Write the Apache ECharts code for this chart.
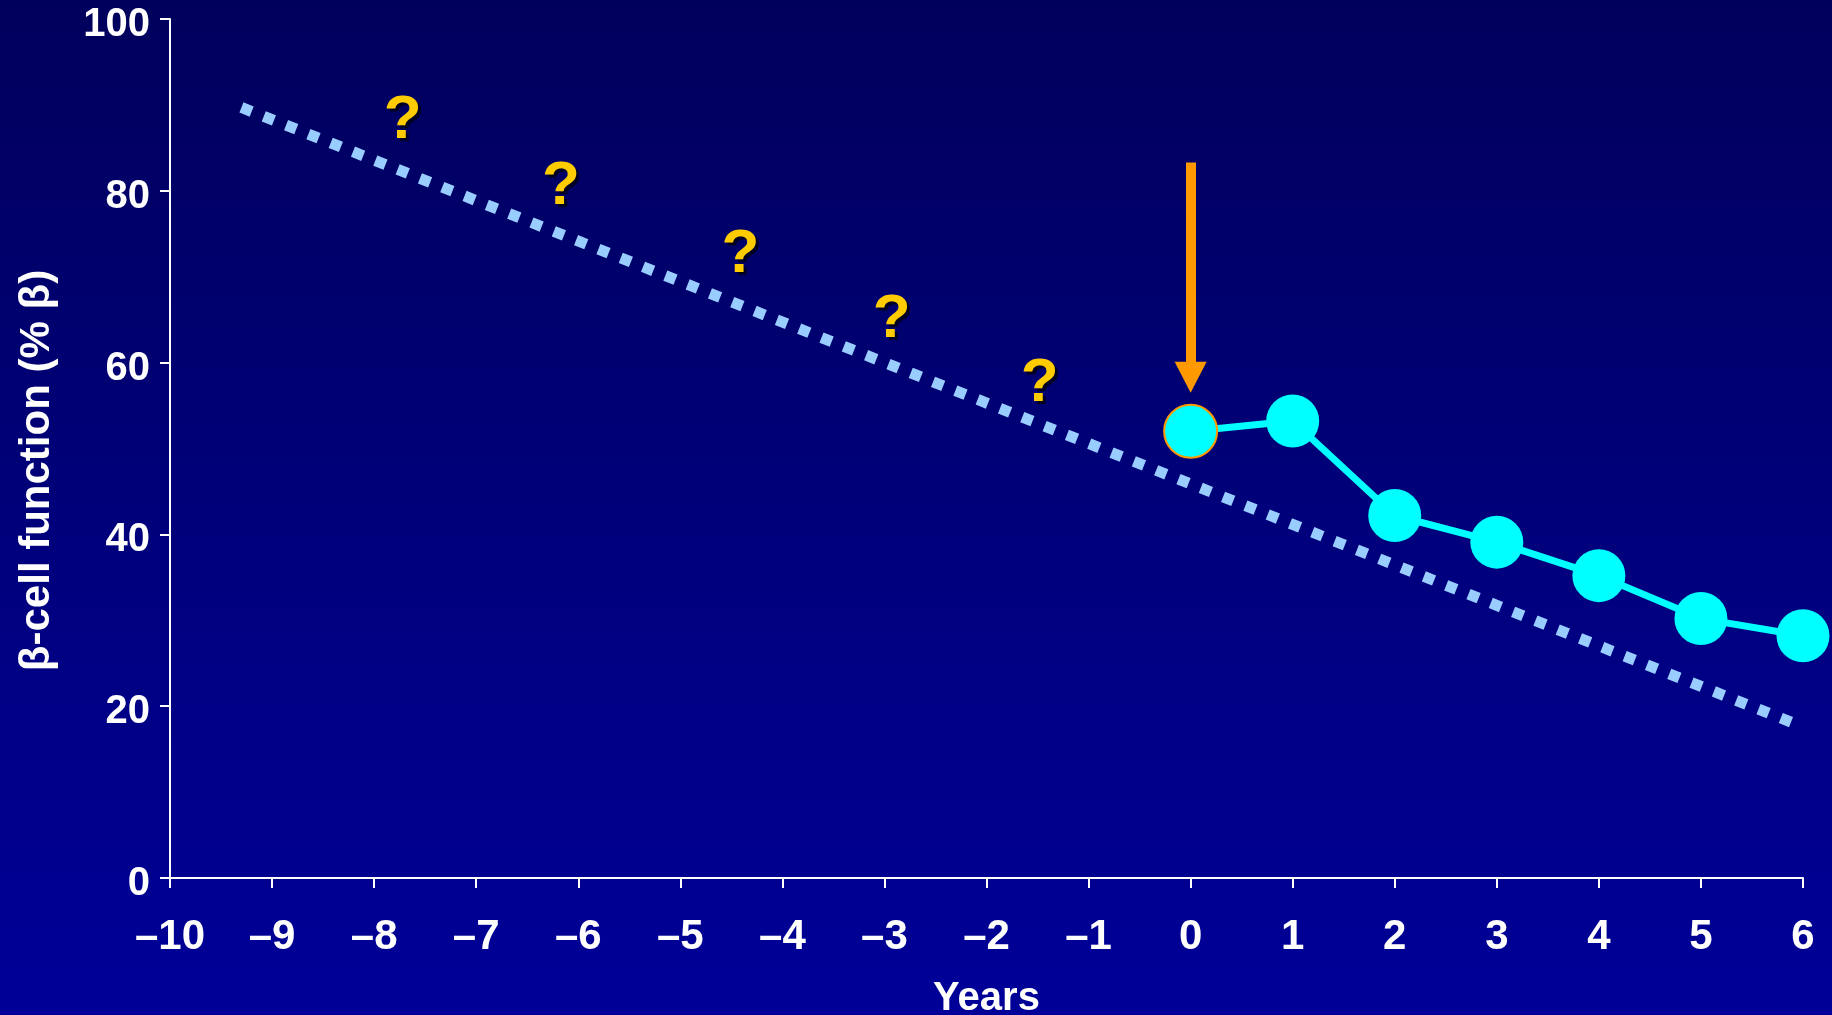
<!DOCTYPE html>
<html>
<head>
<meta charset="utf-8">
<script src="https://cdn.jsdelivr.net/npm/echarts@6/dist/echarts.min.js"></script>
<style>
  html, body { margin: 0; padding: 0; background: #000080; }
  #chart { width: 1832px; height: 1015px; }
</style>
</head>
<body>
<div id="chart"></div>
<script>
// Observed β-cell function after diagnosis (year 0 onward)
const years = [0, 1, 2, 3, 4, 5, 6];
const betaFunction = [52.0, 53.2, 42.2, 39.1, 35.2, 30.2, 28.2];

// Extrapolated linear decline back to the years before diagnosis
const trendYears = [-9.3, 6];
const trendValues = [89.7, 17.6];

// Question marks placed along the unknown pre-diagnosis period
const questionYears = [-7.72, -6.17, -4.41, -2.93, -1.48];
const questionValues = [88.7, 81.0, 73.1, 65.6, 58.1];

// Arrow marking diagnosis: shaft top and arrow-head centre
const arrowYear = 0;
const arrowFrom = 83.3;
const arrowTo = 58.3;

const yTicks = [0, 20, 40, 60, 80, 100];

const font = '"Liberation Sans", Arial, Helvetica, sans-serif';

const chart = echarts.init(document.getElementById('chart'), null, { renderer: 'canvas' });

chart.setOption({
  animation: false,
  backgroundColor: {
    type: 'linear', x: 0, y: 0, x2: 0, y2: 1,
    colorStops: [
      { offset: 0, color: '#00005C' },
      { offset: 1, color: '#000098' }
    ]
  },
  grid: { left: 170, right: 29, top: 19, bottom: 137, containLabel: false, outerBoundsMode: 'none' },
  xAxis: {
    type: 'value',
    min: -10, max: 6, interval: 1,
    name: 'Years',
    nameLocation: 'middle',
    nameGap: 101,
    nameTextStyle: { color: '#FFFFFF', fontFamily: font, fontWeight: 'bold', fontSize: 40 },
    axisLine: { onZero: false, lineStyle: { color: '#FFFFFF', width: 2 } },
    axisTick: { show: true, length: 10, inside: false, lineStyle: { color: '#FFFFFF', width: 2 } },
    axisLabel: {
      color: '#FFFFFF', fontFamily: font, fontWeight: 'bold', fontSize: 42, margin: 38,
      formatter: v => (v < 0 ? '\u2013' + Math.abs(v) : String(v))
    },
    splitLine: { show: false }
  },
  yAxis: {
    type: 'value',
    min: 0, max: 100, interval: 20,
    name: '\u03B2-cell function (% \u03B2)',
    nameLocation: 'middle',
    nameGap: 112,
    nameTextStyle: { color: '#FFFFFF', fontFamily: font, fontWeight: 'bold', fontSize: 42, padding: [0, 44, 0, 0] },
    axisLine: { show: true, onZero: false, lineStyle: { color: '#FFFFFF', width: 2 } },
    axisTick: { show: true, length: 10, lineStyle: { color: '#FFFFFF', width: 2 } },
    axisLabel: {
      color: '#FFFFFF', fontFamily: font, fontWeight: 'bold', fontSize: 40, margin: 20,
      verticalAlign: 'top', lineHeight: 12,
      formatter: v => (yTicks.includes(v) ? String(v) : '')
    },
    splitLine: { show: false }
  },
  series: [
    {
      name: 'trend',
      type: 'line',
      data: trendYears.map((x, i) => [x, trendValues[i]]),
      showSymbol: false,
      symbol: 'none',
      silent: true,
      z: 1,
      lineStyle: { color: '#99CCFF', width: 11, type: [11, 13], cap: 'butt' }
    },
    {
      name: 'questions',
      type: 'scatter',
      data: questionYears.map((x, i) => [x, questionValues[i]]),
      symbolSize: 0,
      itemStyle: { color: '#FFCC00', opacity: 1 },
      silent: true,
      z: 3,
      label: {
        show: true,
        position: 'inside',
        offset: [0, 5],
        formatter: '?',
        color: '#FFCC00',
        opacity: 1,
        fontFamily: font,
        fontWeight: 'bold',
        fontSize: 62,
        textShadowColor: '#000022',
        textShadowOffsetX: 3,
        textShadowOffsetY: 3,
        textShadowBlur: 1
      }
    },
    {
      name: 'beta',
      type: 'line',
      data: years.map((x, i) => ({
        value: [x, betaFunction[i]],
        itemStyle: i === 0 ? { borderColor: '#FF9900', borderWidth: 2 } : undefined
      })),
      symbol: 'circle',
      symbolSize: 53,
      showAllSymbol: true,
      z: 4,
      lineStyle: { color: '#00FFFF', width: 7 },
      itemStyle: { color: '#00FFFF', borderWidth: 0, opacity: 1 },
      markLine: {
        silent: true,
        symbol: ['none', 'triangle'],
        symbolSize: [32, 31],
        label: { show: false },
        lineStyle: { color: '#FF9900', width: 10, type: 'solid' },
        itemStyle: { color: '#FF9900' },
        data: [[{ coord: [arrowYear, arrowFrom] }, { coord: [arrowYear, arrowTo] }]]
      }
    }
  ]
});
</script>
</body>
</html>
